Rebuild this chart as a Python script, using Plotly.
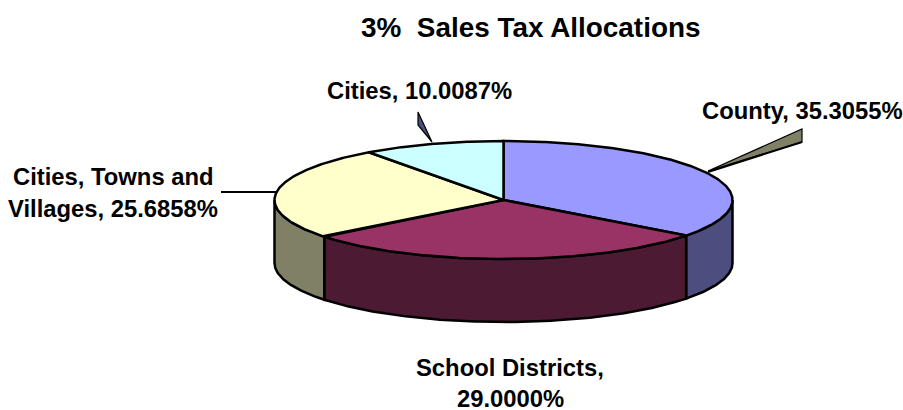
import numpy as np
import plotly.graph_objects as go

# Slice values, clockwise from 12 o'clock
categories = ['County', 'School Districts', 'Cities, Towns and Villages', 'Cities']
shares = [35.3055, 29.0000, 25.6858, 10.0087]
top_colors = ['#9999FF', '#993366', '#FFFFCC', '#CCFFFF']
side_colors = ['#4D4D80', '#4D1A33', '#808066', '#668080']

# Pie geometry, in page pixels
CX, CY = 503.5, 200
RX, RY = 229, 59
DEPTH = 63


def arc(a0, a1, drop=0):
    t = np.radians(np.linspace(a0, a1, max(int(abs(a1 - a0)) * 2, 2)))
    return CX + RX * np.sin(t), CY - RY * np.cos(t) + drop


def poly(x, y, fill, width=2.5):
    return go.Scatter(x=x, y=y, mode='lines', fill='toself', fillcolor=fill,
                      line=dict(color='black', width=width), hoverinfo='skip')


fig = go.Figure()

edges = np.cumsum([0] + shares) / sum(shares) * 360

# Leader wedges and lines sit behind the pie
fig.add_trace(poly([708, 802, 802, 708], [171, 129, 142, 171], '#808066', 1.2))
fig.add_trace(go.Scatter(x=[708, 802], y=[172, 142], mode='lines',
                         line=dict(color='black', width=2), hoverinfo='skip'))
fig.add_trace(poly([432, 418, 418, 432], [142, 112, 125, 142], '#4D4D80', 1.2))
fig.add_trace(go.Scatter(x=[221, 276], y=[192, 192], mode='lines',
                         line=dict(color='black', width=2), hoverinfo='skip'))

# Side walls: only the part of each slice that faces the viewer
for i in range(len(shares)):
    a0, a1 = max(edges[i], 90), min(edges[i + 1], 270)
    if a1 <= a0:
        continue
    xt, yt = arc(a0, a1)
    xb, yb = arc(a0, a1, DEPTH)
    fig.add_trace(poly(np.r_[xt, xb[::-1], xt[0]], np.r_[yt, yb[::-1], yt[0]], side_colors[i]))

# Top faces
for i in range(len(shares)):
    xt, yt = arc(edges[i], edges[i + 1])
    fig.add_trace(poly(np.r_[CX, xt, CX], np.r_[CY, yt, CY], top_colors[i]))

labels = [
    ('3%  Sales Tax Allocations', 530, 27, 27.9),
    ('County, 35.3055%', 802, 110, 23.8),
    ('Cities, 10.0087%', 419, 90, 23.8),
    ('Cities, Towns and', 113, 176, 23.8),
    ('Villages, 25.6858%', 113, 208, 23.8),
    ('School Districts,', 510, 367, 23.8),
    ('29.0000%', 510, 398, 23.8),
]
for text, x, y, size in labels:
    fig.add_annotation(x=x, y=y, text='<b>%s</b>' % text, showarrow=False,
                       xanchor='center', yanchor='middle',
                       font=dict(family='Liberation Sans', size=size, color='black'))

fig.update_layout(
    width=903, height=410, showlegend=False,
    margin=dict(l=0, r=0, t=0, b=0),
    paper_bgcolor='white', plot_bgcolor='white',
    xaxis=dict(range=[0, 903], visible=False, fixedrange=True),
    yaxis=dict(range=[410, 0], visible=False, fixedrange=True),
)

# Page default margin would push the plot 8px in
fig.write_html("out.html", config=dict(displayModeBar=False),
               post_script="document.body.style.margin = '0';")
